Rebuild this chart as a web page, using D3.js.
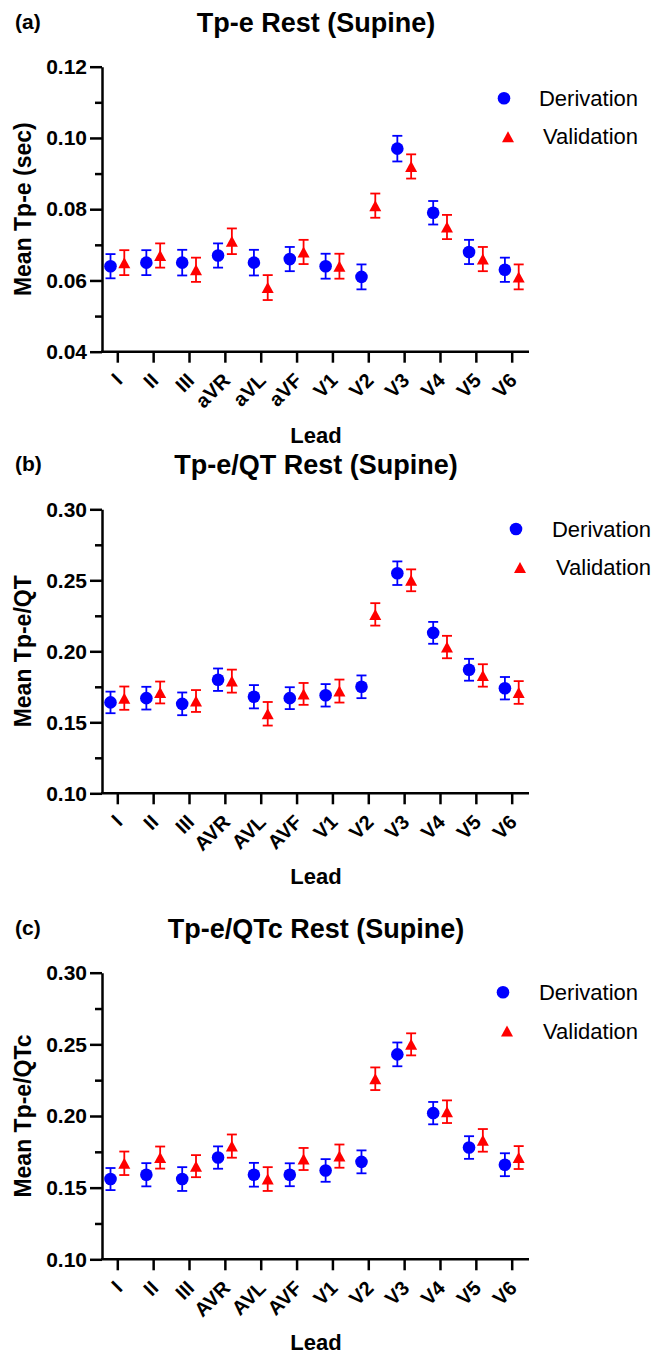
<!DOCTYPE html>
<html>
<head>
<meta charset="utf-8">
<script src="https://cdn.jsdelivr.net/npm/d3@7"></script>
<style>
  body { margin: 0; background: #fff; }
  svg text { font-family: "Liberation Sans", Arial, sans-serif; fill: #000; }
</style>
</head>
<body>
<svg id="chart" width="665" height="1357"></svg>
<script>
// lead names
var leadsA = ["I", "II", "III", "aVR", "aVL", "aVF", "V1", "V2", "V3", "V4", "V5", "V6"];
var leadsBC = ["I", "II", "III", "AVR", "AVL", "AVF", "V1", "V2", "V3", "V4", "V5", "V6"];

// (a) Tp-e, sec
var tpeDer = [0.064, 0.065, 0.065, 0.067, 0.065, 0.066, 0.064, 0.061, 0.097, 0.079, 0.068, 0.063];
var tpeDerErr = [0.0034, 0.0035, 0.0036, 0.0034, 0.0036, 0.0034, 0.0035, 0.0035, 0.0036, 0.0033, 0.0034, 0.0034];
var tpeVal = [0.065, 0.067, 0.063, 0.071, 0.058, 0.068, 0.064, 0.081, 0.092, 0.075, 0.066, 0.061];
var tpeValErr = [0.0035, 0.0034, 0.0034, 0.0036, 0.0035, 0.0034, 0.0035, 0.0034, 0.0034, 0.0034, 0.0034, 0.0035];

// (b) Tp-e/QT
var qtDer = [0.164, 0.167, 0.163, 0.180, 0.168, 0.167, 0.169, 0.175, 0.255, 0.213, 0.187, 0.174];
var qtDerErr = [0.0076, 0.0080, 0.0080, 0.0079, 0.0082, 0.0077, 0.0079, 0.0080, 0.0083, 0.0077, 0.0077, 0.0079];
var qtVal = [0.167, 0.171, 0.165, 0.179, 0.156, 0.170, 0.172, 0.226, 0.250, 0.203, 0.183, 0.171];
var qtValErr = [0.0082, 0.0077, 0.0077, 0.0081, 0.0083, 0.0077, 0.0081, 0.0079, 0.0077, 0.0079, 0.0079, 0.0080];

// (c) Tp-e/QTc
var qtcDer = [0.156, 0.159, 0.156, 0.171, 0.159, 0.159, 0.162, 0.168, 0.243, 0.202, 0.178, 0.166];
var qtcDerErr = [0.0077, 0.0081, 0.0083, 0.0078, 0.0083, 0.0080, 0.0079, 0.0080, 0.0083, 0.0078, 0.0079, 0.0080];
var qtcVal = [0.167, 0.171, 0.165, 0.179, 0.156, 0.170, 0.172, 0.226, 0.250, 0.203, 0.183, 0.171];
var qtcValErr = [0.0082, 0.0077, 0.0077, 0.0081, 0.0083, 0.0077, 0.0081, 0.0079, 0.0077, 0.0079, 0.0079, 0.0080];

var ticksA = [0.04, 0.06, 0.08, 0.10, 0.12];
var ticksBC = [0.10, 0.15, 0.20, 0.25, 0.30];

var svg = d3.select("#chart");
var blue = "#0000ff", red = "#ff0000";
var tri = "M0,-5.5L6,5.5L-6,5.5Z";

function panel(p) {
  var g = svg.append("g");
  var x = d3.scalePoint().domain(p.leads).range([117.3, 511.7]);
  var y = d3.scaleLinear().domain(p.domain).range([p.bot, p.top]);

  // title + panel letter
  g.append("text").attr("x", 316).attr("y", p.top - 35).attr("text-anchor", "middle")
    .attr("font-size", "27px").attr("font-weight", "bold").text(p.title);
  g.append("text").attr("x", 15).attr("y", p.top - 38).attr("font-size", "21px")
    .attr("font-weight", "bold").text(p.letter);

  // minor y ticks
  var step = p.ticks[1] - p.ticks[0];
  var minor = p.ticks.slice(0, -1).map(function(t) { return t + step / 2; });
  g.append("g").attr("transform", "translate(102,0)")
    .call(d3.axisLeft(y).tickValues(minor).tickSize(7).tickFormat(""))
    .call(function(a) { a.select(".domain").remove(); a.selectAll("line").attr("stroke-width", 2.5); });

  // y axis
  var ya = g.append("g").attr("transform", "translate(102,0)")
    .call(d3.axisLeft(y).tickValues(p.ticks).tickSize(12).tickSizeOuter(0).tickPadding(3).tickFormat(d3.format(".2f")));
  ya.select(".domain").attr("stroke-width", 2.5);
  ya.selectAll("line").attr("stroke-width", 2.5);
  ya.selectAll("text").attr("font-size", "21px").attr("font-weight", "bold")
    .attr("font-family", "Liberation Sans, Arial, sans-serif");

  // x axis
  var xa = g.append("g").attr("transform", "translate(0," + p.bot + ")")
    .call(d3.axisBottom(x).tickSize(11).tickSizeOuter(0));
  xa.select(".domain").remove();
  xa.append("line").attr("x1", 101).attr("x2", 529).attr("stroke", "#000").attr("stroke-width", 2.5);
  xa.selectAll(".tick line").attr("stroke-width", 2.5);
  xa.selectAll(".tick text")
    .attr("font-size", "20px").attr("font-weight", "bold")
    .attr("font-family", "Liberation Sans, Arial, sans-serif")
    .attr("text-anchor", "end").attr("dy", null).attr("y", null)
    .attr("transform", "translate(6,30) rotate(-45)");

  g.append("text").attr("x", 316).attr("y", p.bot + 91).attr("text-anchor", "middle")
    .attr("font-size", "22px").attr("font-weight", "bold").text("Lead");
  g.append("text").attr("transform", "translate(31," + ((p.top + p.bot) / 2) + ") rotate(-90)")
    .attr("text-anchor", "middle").attr("font-size", "23px").attr("font-weight", "bold").text(p.ylabel);

  // error bars + markers
  var series = [
    { vals: p.der, errs: p.derErr, color: blue, dx: -6.8, shape: "circle" },
    { vals: p.val, errs: p.valErr, color: red, dx: 7, shape: "tri" }
  ];
  series.forEach(function(s) {
    var data = p.leads.map(function(l, i) { return { lead: l, v: s.vals[i], e: s.errs[i] }; });
    var eg = g.append("g").attr("stroke", s.color).attr("stroke-width", 1.8).attr("fill", "none");
    data.forEach(function(d) {
      var cx = x(d.lead) + s.dx, hi = y(d.v + d.e), lo = y(d.v - d.e);
      eg.append("line").attr("x1", cx).attr("x2", cx).attr("y1", hi).attr("y2", lo);
      eg.append("line").attr("x1", cx - 5).attr("x2", cx + 5).attr("y1", hi).attr("y2", hi);
      eg.append("line").attr("x1", cx - 5).attr("x2", cx + 5).attr("y1", lo).attr("y2", lo);
    });
    if (s.shape === "circle") {
      g.selectAll(null).data(data).enter().append("circle")
        .attr("cx", function(d) { return x(d.lead) + s.dx; })
        .attr("cy", function(d) { return y(d.v); })
        .attr("r", 6.3).attr("fill", s.color);
    } else {
      g.selectAll(null).data(data).enter().append("path")
        .attr("d", tri)
        .attr("transform", function(d) { return "translate(" + (x(d.lead) + s.dx) + "," + y(d.v) + ")"; })
        .attr("fill", s.color);
    }
  });

  // legend
  var lg = p.legend;
  g.append("circle").attr("cx", lg.cx).attr("cy", lg.y1).attr("r", 6.3).attr("fill", blue);
  g.append("path").attr("d", tri).attr("transform", "translate(" + (lg.cx + 4) + "," + lg.y2 + ")").attr("fill", red);
  g.append("text").attr("x", lg.tx).attr("y", lg.y1).attr("dy", "0.35em").attr("text-anchor", "end")
    .attr("font-size", "22px").text("Derivation");
  g.append("text").attr("x", lg.tx).attr("y", lg.y2).attr("dy", "0.35em").attr("text-anchor", "end")
    .attr("font-size", "22px").text("Validation");
}

panel({ letter: "(a)", title: "Tp-e Rest (Supine)", ylabel: "Mean Tp-e (sec)", leads: leadsA,
  domain: [0.04, 0.12], ticks: ticksA, top: 66.7, bot: 351.7,
  der: tpeDer, derErr: tpeDerErr, val: tpeVal, valErr: tpeValErr,
  legend: { cx: 504, y1: 98.3, y2: 136.7, tx: 638 } });

panel({ letter: "(b)", title: "Tp-e/QT Rest (Supine)", ylabel: "Mean Tp-e/QT", leads: leadsBC,
  domain: [0.10, 0.30], ticks: ticksBC, top: 509.3, bot: 793.3,
  der: qtDer, derErr: qtDerErr, val: qtVal, valErr: qtValErr,
  legend: { cx: 516, y1: 529, y2: 567.5, tx: 651 } });

panel({ letter: "(c)", title: "Tp-e/QTc Rest (Supine)", ylabel: "Mean Tp-e/QTc", leads: leadsBC,
  domain: [0.10, 0.30], ticks: ticksBC, top: 972.7, bot: 1259.3,
  der: qtcDer, derErr: qtcDerErr, val: qtcVal, valErr: qtcValErr,
  legend: { cx: 503, y1: 992.3, y2: 1031, tx: 638 } });
</script>
</body>
</html>
